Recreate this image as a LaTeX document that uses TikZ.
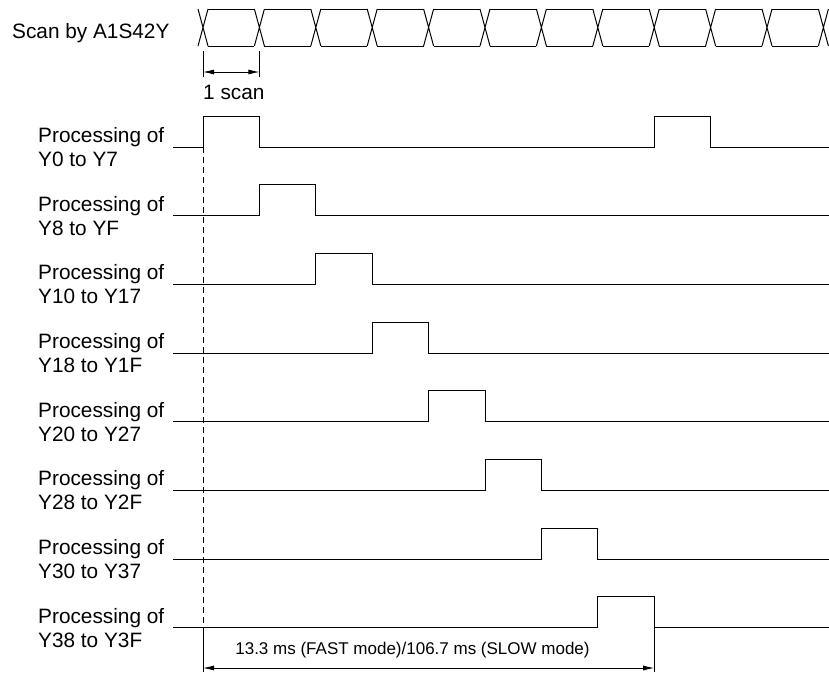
\documentclass[tikz,border=0pt]{standalone}
\usepackage{fontspec}
\setmainfont{Liberation Sans}
\usetikzlibrary{arrows.meta}

\begin{document}
\begin{tikzpicture}[x=1pt, y=-1pt,
        wave/.style={draw, line width=1pt, line join=miter},
        signame/.style={anchor=west, inner sep=0pt, align=left, font=\fontsize{20.8}{24}\selectfont},
        dimline/.style={draw, line width=0.8pt, {Latex[length=11pt,width=5pt]}-{Latex[length=11pt,width=5pt]}},
        guide/.style={draw, line width=0.8pt, dash pattern=on 6pt off 4pt}]
    \useasboundingbox (0,0) rectangle (829,673);

    % scan signal
    \node [signame, anchor=base west] (scan) at (12,38) {Scan by A1S42Y};
    \foreach \k in {0,...,11} {
        \pgfmathsetmacro{\xa}{203+56.4*\k}
        \path [wave] (\xa-5,9) -- (\xa+5,46) (\xa-5,46) -- (\xa+5,9);
    }
    \foreach \k in {0,...,10} {
        \pgfmathsetmacro{\xa}{203+56.4*\k}
        \path [wave] (\xa+5,9) -- (\xa+51.4,9) (\xa+5,46) -- (\xa+51.4,46);
    }

    % 1 scan
    \coordinate (scanL) at (203,72);
    \coordinate (scanR) at (259.4,72);
    \path [wave, line width=0.8pt] (203,51) -- (203,77) (259.4,51) -- (259.4,77);
    \path [dimline] (scanL) -- (scanR);
    \node [signame, anchor=base west] (onescan) at (203,99) {1 scan};

    % outputs
    \node [signame] (proc0) at (38,147) {Processing of\\Y0 to Y7};
    \path [wave] (173,147) -- (203,147) -- (203,116) -- (259.4,116) -- (259.4,147)
        -- (654.2,147) -- (654.2,116) -- (710.6,116) -- (710.6,147) -- (829,147);
    \foreach \k/\txt in {1/{Y8 to YF}, 2/{Y10 to Y17}, 3/{Y18 to Y1F}, 4/{Y20 to Y27},
            5/{Y28 to Y2F}, 6/{Y30 to Y37}, 7/{Y38 to Y3F}} {
        \pgfmathsetmacro{\yb}{147+68.7*\k}
        \pgfmathsetmacro{\xa}{203+56.4*\k}
        \pgfmathsetmacro{\xb}{\xa+56.4}
        \node [signame] (proc\k) at (38,\yb) {Processing of\\\txt};
        \path [wave] (173,\yb) -- (\xa,\yb) -- (\xa,\yb-31) -- (\xb,\yb-31) -- (\xb,\yb) -- (829,\yb);
    }

    % cycle time
    \path [guide] (203,147) -- (203,628);
    \path [wave, line width=0.8pt] (203,628) -- (203,672) (654.2,628) -- (654.2,672);
    \coordinate (cycL) at (203,668);
    \coordinate (cycR) at (654.2,668);
    \path [dimline] (cycL) -- (cycR);
    \node [inner sep=0pt, anchor=base, font=\fontsize{17}{20}\selectfont] (cycle) at (412.5,654)
        {13.3 ms (FAST mode)/106.7 ms (SLOW mode)};
\end{tikzpicture}
\end{document}
